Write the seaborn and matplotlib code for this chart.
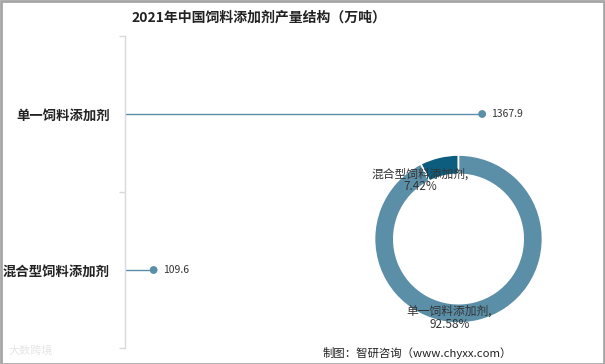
"""
2021年中国饲料添加剂产量结构：棒棒糖图 + 环形图，保存为 out.png
"""
import matplotlib
matplotlib.use("Agg")
import matplotlib.pyplot as plt
from matplotlib.patches import Rectangle
import seaborn as sns
import pandas as pd

sns.set_theme(style="white")
plt.rcParams["font.family"] = ["Noto Sans CJK SC", "DejaVu Sans"]

categories = ["单一饲料添加剂", "混合型饲料添加剂"]
output = [1367.9, 109.6]
share_labels = ["混合型饲料添加剂,\n7.42%", "单一饲料添加剂,\n92.58%"]
share_values = [7.42, 92.58]

LINE = "#5b8fa8"
DARK = "#0d5e7e"

df = pd.DataFrame({"cat": categories, "val": output, "pos": [0, 1]})

W, H = 605, 364
fig = plt.figure(figsize=(W / 100, H / 100), dpi=100)

# 棒棒糖主图
ax = fig.add_axes([125 / W, 16 / H, 465 / W, 312 / H])
ax.hlines(df["pos"], 0, df["val"], color=LINE, lw=1)
sns.scatterplot(data=df, x="val", y="pos", ax=ax, color=LINE, s=32,
                edgecolor="none", legend=False, zorder=3)
for _, r in df.iterrows():
    ax.text(r["val"] + 35, r["pos"], f"{r['val']:.1f}", va="center", ha="left",
            fontsize=7.5, color="#333333")

ax.set_xlim(0, 1781)
ax.set_ylim(1.5, -0.5)
ax.set_yticks(df["pos"])
ax.set_yticklabels(df["cat"], fontsize=9.6, fontweight="bold", color="#222222")
ax.set_yticks([-0.5, 0.5, 1.5], minor=True)
ax.tick_params(axis="y", which="major", length=0, pad=11)
ax.tick_params(axis="y", which="minor", length=4, color="#d9d9d9", width=1, left=True)
ax.set_xticks([])
ax.set_xlabel("")
ax.set_ylabel("")
for s in ["top", "right", "bottom"]:
    ax.spines[s].set_visible(False)
ax.spines["left"].set_color("#d9d9d9")
ax.spines["left"].set_linewidth(1)

# 环形图
R = 84
cx, cy = 458.5, H - 239
pax = fig.add_axes([(cx - R) / W, (cy - R) / H, 2 * R / W, 2 * R / H])
pax.pie(share_values, colors=[DARK, LINE], startangle=90, counterclock=True,
        wedgeprops=dict(width=0.23, edgecolor="white", linewidth=1.2))
pax.set_xlim(-1, 1)
pax.set_ylim(-1, 1)
pax.text(-0.46, 0.70, share_labels[0], ha="center", va="center", fontsize=8.5,
         color="#333333", linespacing=1.0)
pax.text(-0.11, -0.94, share_labels[1], ha="center", va="center", fontsize=8.5,
         color="#333333", linespacing=1.0)

fig.text(259 / W, 1 - 18 / H, "2021年中国饲料添加剂产量结构（万吨）", ha="center",
         va="center", fontsize=10, fontweight="bold", color="#222222")
fig.text(512 / W, 1 - 353 / H, "制图：智研咨询（www.chyxx.com）", ha="right",
         va="center", fontsize=8.2, color="#222222")
fig.text(8 / W, 1 - 351 / H, "大数跨境", ha="left", va="center", fontsize=8,
         color="#e6e6e6")

fig.patches.append(Rectangle((0.5 / W, 0.5 / H), 1 - 1.5 / W, 1 - 1.5 / H,
                             transform=fig.transFigure, fill=False,
                             edgecolor="#a6a6a6", lw=2))

fig.savefig("out.png", dpi=100)
